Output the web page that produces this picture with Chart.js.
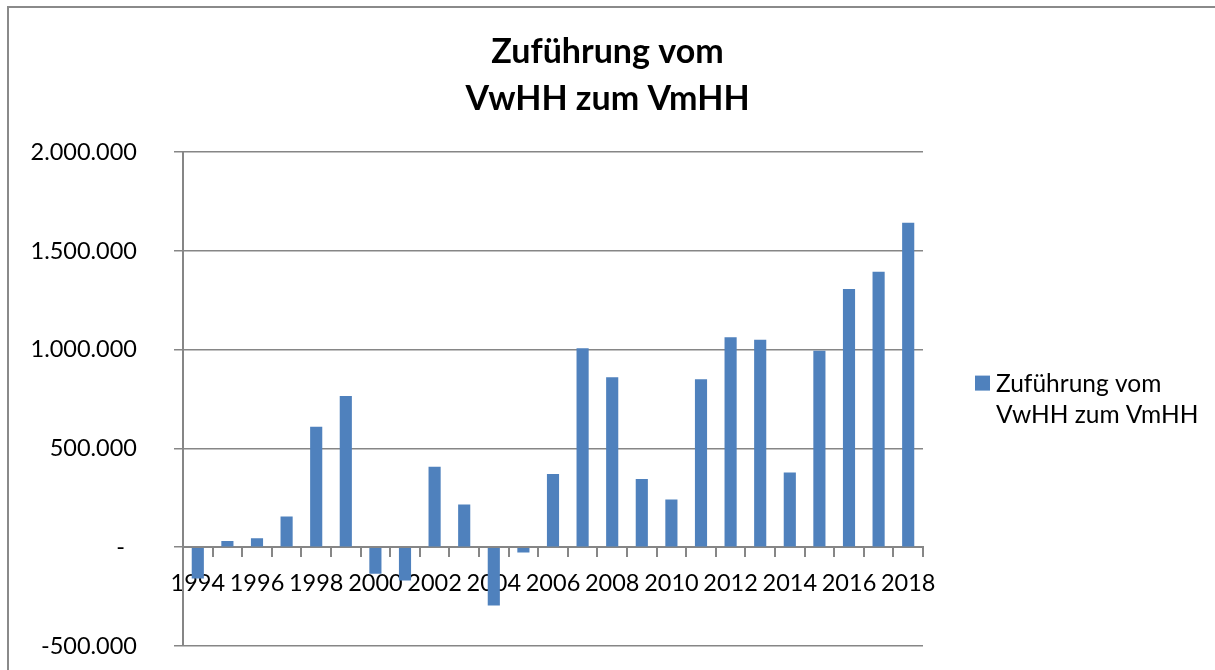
<!DOCTYPE html>
<html>
<head>
<meta charset="utf-8">
<script src="https://cdn.jsdelivr.net/npm/chart.js@4/dist/chart.umd.min.js"></script>
<style>
  html, body { margin: 0; padding: 0; background: #ffffff; overflow: hidden; }
  #wrap { position: relative; width: 1215px; height: 670px; }
  #c { position: absolute; left: 0; top: 0; }
  #frame { position: absolute; left: 7px; top: 6px; width: 1300px; height: 800px;
           border-top: 2px solid #8a8a8a; border-left: 2px solid #8a8a8a; pointer-events: none; }
</style>
</head>
<body>
<div id="wrap">
  <canvas id="c" width="1215" height="670"></canvas>
  <div id="frame"></div>
</div>
<script>
const years = ['1994','1995','1996','1997','1998','1999','2000','2001','2002','2003','2004','2005','2006',
               '2007','2008','2009','2010','2011','2012','2013','2014','2015','2016','2017','2018'];
const values = [-158000, 32000, 46000, 156000, 610000, 766000, -134000, -168000, 408000, 217000, -295000, -27000, 371000,
                1007000, 861000, 346000, 242000, 851000, 1063000, 1051000, 379000, 995000, 1307000, 1395000, 1643000];
const seriesName = 'Zuführung vom VwHH zum VmHH';
const seriesLegendLines = ['Zuführung vom', 'VwHH zum VmHH'];
const titleLines = ['Zuführung vom', 'VwHH zum VmHH'];
const yTickValues = [-500000, 0, 500000, 1000000, 1500000, 2000000];
const yTickLabels = ['-500.000', '-  ', '500.000', '1.000.000', '1.500.000', '2.000.000'];

const FONT = 'Lato, "Open Sans", sans-serif';
const GRID = '#868686';
const BAR = '#4f81bd';

// Right-side legend as a layout box so the title stays centred on the full canvas
const legendPlugin = {
  id: 'sideLegend',
  beforeInit(chart) {
    const box = {
      position: 'right', weight: 1000, fullSize: false, options: {},
      left: 0, top: 0, right: 0, bottom: 0, width: 0, height: 0,
      update(maxWidth, maxHeight) { this.width = 292; this.height = maxHeight; },
      isHorizontal() { return false; },
      draw() {
        const ctx = chart.ctx;
        const ca = chart.chartArea;
        const cy = (ca.top + ca.bottom) / 2;
        const x0 = ca.right + 52;
        const lh = 31;
        ctx.save();
        ctx.fillStyle = chart.data.datasets[0].backgroundColor;
        ctx.fillRect(x0, cy - lh / 2 - 8, 15, 15);
        ctx.fillStyle = '#000';
        ctx.font = '24.5px ' + FONT;
        ctx.textBaseline = 'middle';
        ctx.textAlign = 'left';
        seriesLegendLines.forEach((t, i) => {
          ctx.fillText(t, x0 + 21, cy - lh / 2 + i * lh);
        });
        ctx.restore();
      }
    };
    Chart.layouts.addBox(chart, box);
  }
};

new Chart(document.getElementById('c'), {
  type: 'bar',
  data: {
    labels: years,
    datasets: [{
      label: seriesName,
      data: values,
      backgroundColor: BAR,
      borderWidth: 0,
      barPercentage: 0.41,
      categoryPercentage: 1.0
    }]
  },
  plugins: [legendPlugin],
  options: {
    responsive: false,
    animation: false,
    devicePixelRatio: 1,
    layout: { padding: { left: 0, right: 0, top: 0, bottom: 24 } },
    plugins: {
      legend: { display: false },
      tooltip: { enabled: false },
      title: {
        display: true,
        text: titleLines,
        color: '#000',
        font: { family: FONT, size: 34, weight: 'bold', lineHeight: 1.4 },
        padding: { top: 28, bottom: 29 }
      }
    },
    scales: {
      x: {
        position: { y: 0 },
        afterFit(scale) { scale.height = 0; scale.paddingLeft = 0; scale.paddingRight = 0; },
        grid: { display: true, drawOnChartArea: false, drawTicks: true, tickLength: 9, color: GRID, lineWidth: 2, offset: true },
        border: { display: true, color: GRID, width: 2 },
        ticks: {
          autoSkip: false, maxRotation: 0, minRotation: 0, padding: 13,
          color: '#000', font: { family: FONT, size: 23.5 },
          callback: function(v, i) { return i % 2 === 0 ? years[i] : ''; }
        }
      },
      y: {
        min: -500000, max: 2000000,
        afterBuildTicks(scale) { scale.ticks = yTickValues.map(v => ({ value: v })); },
        afterFit(scale) { scale.width = 183; scale.paddingTop = 0; scale.paddingBottom = 0; },
        grid: { color: GRID, lineWidth: 1.5, drawTicks: true, tickLength: 9 },
        border: { display: true, color: GRID, width: 2 },
        ticks: {
          padding: 37, color: '#000', font: { family: FONT, size: 23.5 },
          callback: function(v) { const k = yTickValues.indexOf(v); return k >= 0 ? yTickLabels[k] : ''; }
        }
      }
    }
  }
});
</script>
</body>
</html>
